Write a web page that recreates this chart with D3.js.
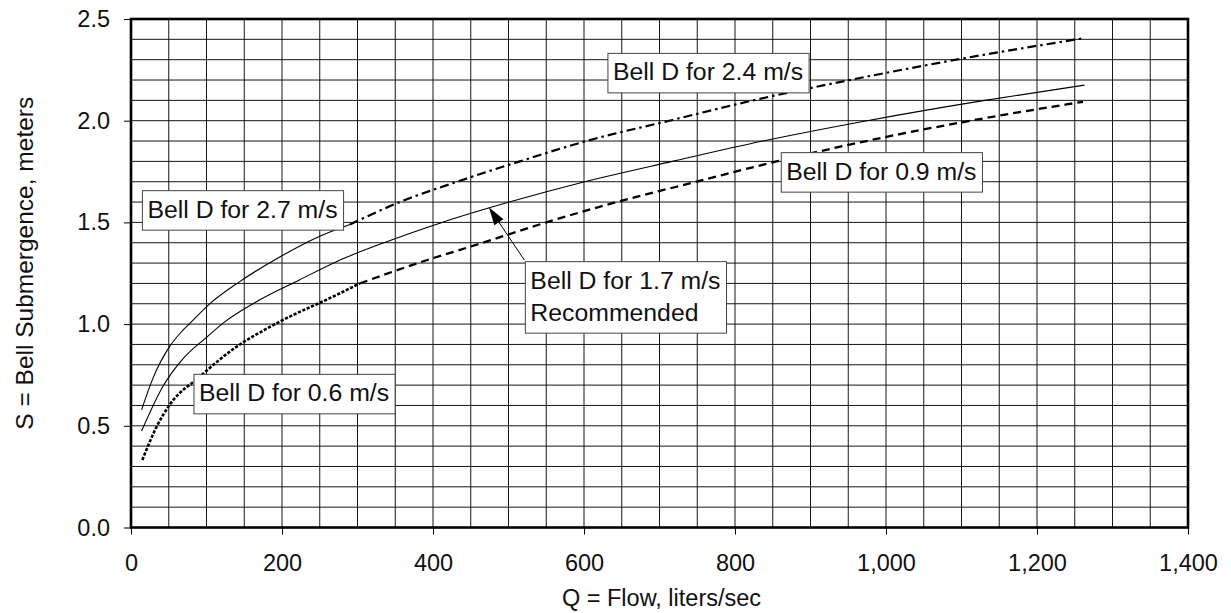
<!DOCTYPE html>
<html>
<head>
<meta charset="utf-8">
<script src="https://cdn.jsdelivr.net/npm/d3@7"></script>
<style>
  html, body { margin: 0; padding: 0; background: #fff; }
  svg { display: block; font-family: "Liberation Sans", Arial, Helvetica, sans-serif; }
</style>
</head>
<body>
<svg id="chart" width="1231" height="613"></svg>
<script>
// Bell submergence vs. flow, one curve per bell-inlet velocity
const xTicks = [0, 200, 400, 600, 800, 1000, 1200, 1400];
const yTicks = [0.0, 0.5, 1.0, 1.5, 2.0, 2.5];

// 2.7 m/s (low-flow portion of the upper curve)
const flow27 = [14, 29, 51, 65, 78, 105, 144, 197, 250, 290];
const sub27  = [0.578, 0.733, 0.889, 0.955, 1.004, 1.102, 1.209, 1.330, 1.432, 1.490];

// 2.4 m/s (high-flow portion of the upper curve)
const flow24 = [290, 356, 432, 515, 603, 713, 824, 952, 1093, 1261];
const sub24  = [1.490, 1.600, 1.700, 1.800, 1.900, 2.000, 2.100, 2.200, 2.300, 2.405];

// 1.7 m/s (recommended)
const flow17 = [14, 42, 69, 100, 122, 170, 223, 272, 335, 412, 501, 601, 717, 837, 975, 1131, 1263];
const sub17  = [0.474, 0.692, 0.830, 0.935, 1.005, 1.118, 1.217, 1.307, 1.400, 1.500, 1.600, 1.700, 1.800, 1.900, 2.000, 2.100, 2.175];

// 0.6 m/s (low-flow portion of the lower curve)
const flow06 = [15, 34, 51, 91, 135, 193, 272, 303];
const sub06  = [0.332, 0.496, 0.602, 0.741, 0.876, 1.004, 1.143, 1.200];

// 0.9 m/s (high-flow portion of the lower curve)
const flow09 = [303, 380, 466, 550, 643, 749, 855, 974, 1112, 1261];
const sub09  = [1.200, 1.300, 1.400, 1.500, 1.600, 1.700, 1.800, 1.900, 2.000, 2.093];

const svg = d3.select("#chart");
const plotLeft = 131, plotRight = 1188, plotTop = 19, plotBottom = 527.5;

const x = d3.scaleLinear().domain([0, 1400]).range([plotLeft, plotRight]);
const y = d3.scaleLinear().domain([0, 2.5]).range([plotBottom, plotTop]);

// grid: every 50 L/s and every 0.1 m
const grid = svg.append("g").attr("stroke", "#161616").attr("stroke-width", 1);
grid.selectAll("line.v").data(d3.range(50, 1400, 50)).join("line")
  .attr("class", "v")
  .attr("x1", d => x(d)).attr("x2", d => x(d))
  .attr("y1", y(0)).attr("y2", y(2.5));
grid.selectAll("line.h").data(d3.range(1, 25).map(i => i / 10)).join("line")
  .attr("class", "h")
  .attr("x1", x(0)).attr("x2", x(1400))
  .attr("y1", d => y(d)).attr("y2", d => y(d));

// axes
const xAxis = svg.append("g")
  .attr("transform", `translate(0,${plotBottom})`)
  .call(d3.axisBottom(x).tickValues(xTicks).tickFormat(d3.format(",")).tickSize(7).tickPadding(20));
const yAxis = svg.append("g")
  .attr("transform", `translate(${plotLeft},0)`)
  .call(d3.axisLeft(y).tickValues(yTicks).tickFormat(d3.format(".1f")).tickSize(7).tickPadding(14));
[xAxis, yAxis].forEach(a => {
  a.select(".domain").remove();
  a.selectAll(".tick line").attr("stroke", "#000").attr("stroke-width", 1);
  a.selectAll(".tick text").attr("fill", "#111").style("font-size", "23.5px")
    .style("font-family", '"Liberation Sans", Arial, sans-serif');
});

// plot frame
svg.append("rect")
  .attr("x", plotLeft).attr("y", plotTop)
  .attr("width", plotRight - plotLeft).attr("height", plotBottom - plotTop)
  .attr("fill", "none").attr("stroke", "#000").attr("stroke-width", 2.6);

// curves
const line = d3.line().x(d => x(d[0])).y(d => y(d[1])).curve(d3.curveMonotoneX);
const series = [
  { q: flow27, s: sub27, width: 1.1, dash: null },
  { q: flow24, s: sub24, width: 2.2, dash: "9,4,2.5,4" },
  { q: flow17, s: sub17, width: 1.1, dash: null },
  { q: flow06, s: sub06, width: 2.6, dash: "3.2,1.6" },
  { q: flow09, s: sub09, width: 2.3, dash: "8,5" }
];
svg.append("g").selectAll("path").data(series).join("path")
  .attr("d", d => line(d.q.map((q, i) => [q, d.s[i]])))
  .attr("fill", "none")
  .attr("stroke", "#000")
  .attr("stroke-width", d => d.width)
  .attr("stroke-dasharray", d => d.dash);

// arrow from the recommended label to its curve
const arrowFrom = [521, 1.315], arrowTo = [474, 1.574];
const ax0 = x(arrowFrom[0]), ay0 = y(arrowFrom[1]);
const ax1 = x(arrowTo[0]), ay1 = y(arrowTo[1]);
const ang = Math.atan2(ay1 - ay0, ax1 - ax0);
const headLen = 18, headHalf = 5.5;
const bx = ax1 - headLen * Math.cos(ang), by = ay1 - headLen * Math.sin(ang);
svg.append("line")
  .attr("x1", ax0).attr("y1", ay0).attr("x2", bx).attr("y2", by)
  .attr("stroke", "#000").attr("stroke-width", 1);
svg.append("path")
  .attr("d", `M${ax1},${ay1}L${bx + headHalf * Math.sin(ang)},${by - headHalf * Math.cos(ang)}L${bx - headHalf * Math.sin(ang)},${by + headHalf * Math.cos(ang)}Z`)
  .attr("fill", "#000");

// curve labels in boxes, anchored at their top-left corner (data units)
const labels = [
  { q: 631.7, s: 2.331, lines: ["Bell D for 2.4 m/s"] },
  { q: 861.3, s: 1.843, lines: ["Bell D for 0.9 m/s"] },
  { q: 15.1,  s: 1.656, lines: ["Bell D for 2.7 m/s"] },
  { q: 83.4,  s: 0.753, lines: ["Bell D for 0.6 m/s"] },
  { q: 522.3, s: 1.307, lines: ["Bell D for 1.7 m/s", "Recommended"] }
];
const lineH = 32;
labels.forEach(lb => {
  const g = svg.append("g").attr("transform", `translate(${x(lb.q)},${y(lb.s)})`);
  const box = g.append("rect").attr("fill", "#fff").attr("stroke", "#444").attr("stroke-width", 1);
  const t = g.append("text").style("font-size", "24.8px").attr("fill", "#111");
  lb.lines.forEach((s, i) => {
    t.append("tspan").attr("x", 5).attr("y", 27 + i * lineH).text(s);
  });
  const w = t.node().getBBox().width;
  box.attr("x", 0).attr("y", 0).attr("width", w + 11).attr("height", 39.5 + (lb.lines.length - 1) * lineH);
});

// axis titles
svg.append("text")
  .attr("x", (plotLeft + plotRight) / 2 + 2).attr("y", 606)
  .attr("text-anchor", "middle").style("font-size", "23.5px").attr("fill", "#111")
  .text("Q = Flow, liters/sec");
svg.append("text")
  .attr("transform", `translate(33,${(plotTop + plotBottom) / 2 - 10}) rotate(-90)`)
  .attr("text-anchor", "middle").style("font-size", "24.5px").attr("fill", "#111")
  .text("S = Bell Submergence, meters");
</script>
</body>
</html>
